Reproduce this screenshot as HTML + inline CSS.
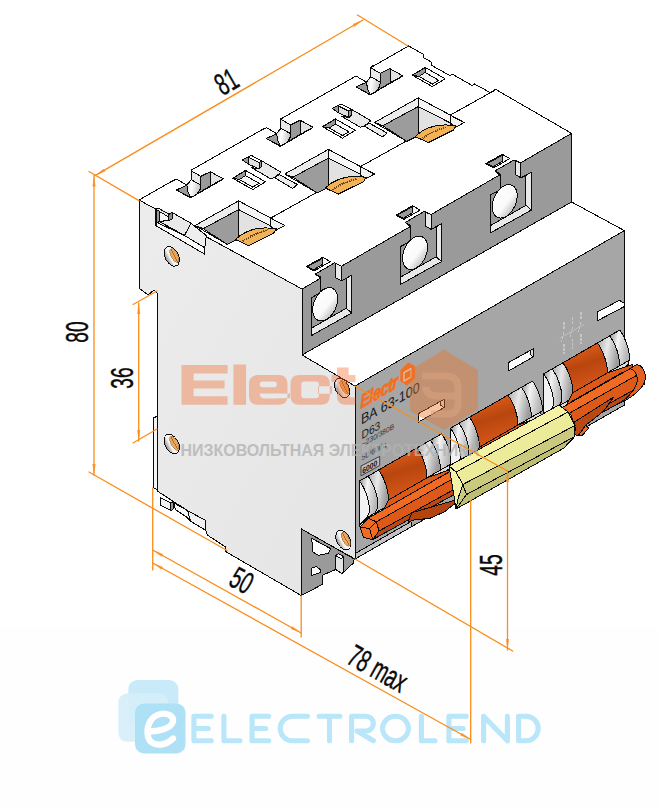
<!DOCTYPE html>
<html><head><meta charset="utf-8"><title>BA 63-100</title>
<style>
html,body{margin:0;padding:0;background:#fff;}
body{width:660px;height:809px;overflow:hidden;font-family:"Liberation Sans",sans-serif;}
svg{display:block;}
text{font-family:"Liberation Sans",sans-serif;}
</style></head><body>
<svg width="660" height="809" viewBox="0 0 660 809">
<defs>
<linearGradient id="gside" x1="0" y1="0" x2="1" y2="1">
<stop offset="0" stop-color="#ececec"/><stop offset="1" stop-color="#e5e5e5"/>
</linearGradient>
<linearGradient id="gor" x1="0" y1="0" x2="0.5" y2="1">
<stop offset="0" stop-color="#f26a22"/><stop offset="1" stop-color="#c94e14"/>
</linearGradient>
<linearGradient id="gcyl" x1="0" y1="0" x2="1" y2="0.3">
<stop offset="0" stop-color="#8a8a8a"/><stop offset="0.45" stop-color="#f4f4f4"/><stop offset="1" stop-color="#b5b5b5"/>
</linearGradient>
<linearGradient id="gcyl2" x1="0" y1="0" x2="1" y2="0.3">
<stop offset="0" stop-color="#a8a8a8"/><stop offset="0.5" stop-color="#e8e8e8"/><stop offset="1" stop-color="#9c9c9c"/>
</linearGradient>
<linearGradient id="gbody" x1="0.3" y1="0" x2="0.6" y2="1">
<stop offset="0" stop-color="#e8601c"/><stop offset="0.45" stop-color="#b8460f"/><stop offset="1" stop-color="#dd5a1a"/>
</linearGradient>
<linearGradient id="gtab" x1="0" y1="0" x2="1" y2="0.2">
<stop offset="0" stop-color="#d0d0d0"/><stop offset="0.4" stop-color="#ffffff"/><stop offset="1" stop-color="#c4c4c4"/>
</linearGradient>
<linearGradient id="gscrew" x1="0" y1="0" x2="1" y2="0">
<stop offset="0" stop-color="#8c8c8c"/><stop offset="0.35" stop-color="#f2f2f2"/><stop offset="1" stop-color="#ffffff"/>
</linearGradient>
<linearGradient id="ghole" x1="0" y1="0" x2="1" y2="0.4">
<stop offset="0" stop-color="#ffffff"/><stop offset="0.7" stop-color="#fafafa"/><stop offset="1" stop-color="#cfcfcf"/>
</linearGradient>
</defs>
<rect width="660" height="809" fill="#ffffff"/>
<g shape-rendering="crispEdges">
<rect x="0" y="627" width="660" height="182" fill="#fefefe"/>
<polygon points="139.0,200.0 408.6,45.9 423.5,54.4 423.5,57.6 431.0,61.8 431.0,65.0 450.0,75.6 452.0,74.0 472.3,85.6 474.4,84.0 490.3,92.6 495.6,89.4 571.6,133.4 302.0,289.0" fill="#ffffff" stroke="#0a0a0a" stroke-width="1" stroke-linejoin="round" />
<polygon points="139.0,200.0 302.0,289.0 302.0,355.0 355.0,386.0 355.0,559.0 301.2,529.0 301.2,595.5 225.5,551.5 225.5,547.0 207.3,535.0 205.7,530.0 190.6,521.0 187.6,510.6 171.0,500.0 157.3,491.0 157.3,417.0 157.3,293.0 154.0,290.0 148.0,295.0 139.0,288.0" fill="url(#gside)" stroke="#0a0a0a" stroke-width="1" stroke-linejoin="round" />
<polygon points="153.6,418.0 157.3,416.0 157.3,489.5 153.6,488.0" fill="#f4f4f4" stroke="#0a0a0a" stroke-width="1" stroke-linejoin="round" />
<polygon points="302.0,289.0 571.6,133.4 571.6,202.0 302.0,355.0" fill="#9a9a9a" stroke="#0a0a0a" stroke-width="1" stroke-linejoin="round" />
<polygon points="302.0,355.0 571.6,202.0 624.4,230.6 355.0,386.0" fill="#ffffff" stroke="#0a0a0a" stroke-width="1" stroke-linejoin="round" />
<polygon points="355.0,386.0 624.4,230.6 624.4,405.0 355.0,559.0" fill="#a6a6a6" stroke="#0a0a0a" stroke-width="1" stroke-linejoin="round" />
<polygon points="195.0,225.5 238.6,200.9 238.6,209.6 203.2,228.7" fill="#ececec" stroke="#0a0a0a" stroke-width="1" stroke-linejoin="round" />
<polygon points="238.6,200.9 284.6,225.5 275.9,230.4 270.5,225.8 238.6,209.6" fill="#f6f6f6" stroke="#0a0a0a" stroke-width="1" stroke-linejoin="round" />
<polygon points="203.2,228.7 238.6,209.6 238.6,238.7 227.2,244.4" fill="#9c9c9c" stroke="#0a0a0a" stroke-width="1" stroke-linejoin="round" />
<polygon points="238.6,209.6 270.5,225.8 272.3,230.4 238.6,240.0" fill="#e2e2e2" stroke="#0a0a0a" stroke-width="1" stroke-linejoin="round" />
<polyline points="238.6,200.9 238.6,238.7" fill="none" stroke="#0a0a0a" stroke-width="1" stroke-linejoin="round" stroke-linecap="round" />
<polyline points="195.0,225.5 227.2,244.4" fill="none" stroke="#0a0a0a" stroke-width="1" stroke-linejoin="round" stroke-linecap="round" />
<polygon points="270.5,218.2 284.6,225.5 275.9,230.4 270.5,225.8" fill="#f0f0f0" stroke="#0a0a0a" stroke-width="1" stroke-linejoin="round" />
<path d="M235.5,239.5 C245.0,230.4 259.5,226.0 276.3,228.9 L273.7,233.1 L248.6,245.6 Z" fill="#f2b258" stroke="#0a0a0a" stroke-width="1" stroke-linejoin="round"/>
<path d="M242.8,241.3 Q252.3,234.2 267.7,230.0" fill="none" stroke="#6e4418" stroke-width="1.8" stroke-dasharray="1.3,0.8"/>
<polyline points="270.5,218.2 316.3,192.7" fill="none" stroke="#0a0a0a" stroke-width="1" stroke-linejoin="round" stroke-linecap="round" />
<polygon points="284.8,174.0 328.4,149.4 328.4,158.1 293.0,177.2" fill="#ececec" stroke="#0a0a0a" stroke-width="1" stroke-linejoin="round" />
<polygon points="328.4,149.4 374.4,174.0 365.7,178.9 360.3,174.3 328.4,158.1" fill="#f6f6f6" stroke="#0a0a0a" stroke-width="1" stroke-linejoin="round" />
<polygon points="293.0,177.2 328.4,158.1 328.4,187.2 317.0,192.9" fill="#9c9c9c" stroke="#0a0a0a" stroke-width="1" stroke-linejoin="round" />
<polygon points="328.4,158.1 360.3,174.3 362.1,178.9 328.4,188.5" fill="#e2e2e2" stroke="#0a0a0a" stroke-width="1" stroke-linejoin="round" />
<polyline points="328.4,149.4 328.4,187.2" fill="none" stroke="#0a0a0a" stroke-width="1" stroke-linejoin="round" stroke-linecap="round" />
<polyline points="284.8,174.0 317.0,192.9" fill="none" stroke="#0a0a0a" stroke-width="1" stroke-linejoin="round" stroke-linecap="round" />
<polygon points="360.3,166.7 374.4,174.0 365.7,178.9 360.3,174.3" fill="#f0f0f0" stroke="#0a0a0a" stroke-width="1" stroke-linejoin="round" />
<path d="M325.3,188.0 C334.8,178.9 349.3,174.5 366.1,177.4 L363.5,181.6 L338.4,194.1 Z" fill="#f2b258" stroke="#0a0a0a" stroke-width="1" stroke-linejoin="round"/>
<path d="M332.6,189.8 Q342.1,182.7 357.5,178.5" fill="none" stroke="#6e4418" stroke-width="1.8" stroke-dasharray="1.3,0.8"/>
<polyline points="360.3,166.7 406.1,141.2" fill="none" stroke="#0a0a0a" stroke-width="1" stroke-linejoin="round" stroke-linecap="round" />
<polygon points="374.6,122.5 418.2,97.9 418.2,106.6 382.8,125.7" fill="#ececec" stroke="#0a0a0a" stroke-width="1" stroke-linejoin="round" />
<polygon points="418.2,97.9 464.2,122.5 455.5,127.4 450.1,122.8 418.2,106.6" fill="#f6f6f6" stroke="#0a0a0a" stroke-width="1" stroke-linejoin="round" />
<polygon points="382.8,125.7 418.2,106.6 418.2,135.7 406.8,141.4" fill="#9c9c9c" stroke="#0a0a0a" stroke-width="1" stroke-linejoin="round" />
<polygon points="418.2,106.6 450.1,122.8 451.9,127.4 418.2,137.0" fill="#e2e2e2" stroke="#0a0a0a" stroke-width="1" stroke-linejoin="round" />
<polyline points="418.2,97.9 418.2,135.7" fill="none" stroke="#0a0a0a" stroke-width="1" stroke-linejoin="round" stroke-linecap="round" />
<polyline points="374.6,122.5 406.8,141.4" fill="none" stroke="#0a0a0a" stroke-width="1" stroke-linejoin="round" stroke-linecap="round" />
<polygon points="450.1,115.2 464.2,122.5 455.5,127.4 450.1,122.8" fill="#f0f0f0" stroke="#0a0a0a" stroke-width="1" stroke-linejoin="round" />
<path d="M415.1,136.5 C424.6,127.4 439.1,123.0 455.9,125.9 L453.3,130.1 L428.2,142.6 Z" fill="#f2b258" stroke="#0a0a0a" stroke-width="1" stroke-linejoin="round"/>
<path d="M422.4,138.3 Q431.9,131.2 447.3,127.0" fill="none" stroke="#6e4418" stroke-width="1.8" stroke-dasharray="1.3,0.8"/>
<polyline points="450.1,115.2 495.9,89.7" fill="none" stroke="#0a0a0a" stroke-width="1" stroke-linejoin="round" stroke-linecap="round" />
<polygon points="175.2,177.4 190.8,168.4 192.2,171.3 185.6,186.4 176.2,181.3" fill="#ffffff" stroke="none" stroke-width="0" stroke-linejoin="round" />
<polygon points="176.5,190.0 186.8,185.2 191.1,179.7 200.8,176.4 210.5,171.6 223.2,178.8 190.5,197.9" fill="#ffffff" stroke="none" stroke-width="0" stroke-linejoin="round" />
<polygon points="176.5,190.0 186.8,185.2 190.5,197.5" fill="#9a9a9a" stroke="#0a0a0a" stroke-width="1" stroke-linejoin="round" />
<polygon points="200.8,176.4 210.5,171.6 210.5,185.8 195.9,194.6 200.2,190.0" fill="#9a9a9a" stroke="#0a0a0a" stroke-width="1" stroke-linejoin="round" />
<polygon points="210.5,171.8 223.2,178.8 210.5,185.8" fill="#e2e2e2" stroke="#0a0a0a" stroke-width="1" stroke-linejoin="round" />
<polygon points="191.1,170.8 200.8,176.4 200.8,185.2 191.1,179.7" fill="#e9e9e9" stroke="#0a0a0a" stroke-width="1" stroke-linejoin="round" />
<path d="M186.8,185.2 L191.1,179.7 L200.8,185.2 Q200.4,190.6 195.9,195.1 L190.5,197.5 Q187.4,192.4 186.8,185.2 Z" fill="url(#gtab)" stroke="#0a0a0a" stroke-width="1" stroke-linejoin="round"/>
<polyline points="176.5,190.0 190.5,197.9 223.2,179.1" fill="none" stroke="#0a0a0a" stroke-width="1" stroke-linejoin="round" stroke-linecap="round" />
<path d="M172.3,181.3 L175.3,179.7 Q177.1,178.8 178.9,180.5 L186.8,185.2" fill="none" stroke="#0a0a0a" stroke-width="1"/>
<polyline points="191.1,179.7 191.1,170.1 194.1,168.4" fill="none" stroke="#0a0a0a" stroke-width="1" stroke-linejoin="round" stroke-linecap="round" />
<polygon points="265.0,125.9 280.6,116.9 282.0,119.8 275.4,134.9 266.0,129.8" fill="#ffffff" stroke="none" stroke-width="0" stroke-linejoin="round" />
<polygon points="266.3,138.5 276.6,133.7 280.9,128.2 290.6,124.9 300.3,120.1 313.0,127.3 280.3,146.4" fill="#ffffff" stroke="none" stroke-width="0" stroke-linejoin="round" />
<polygon points="266.3,138.5 276.6,133.7 280.3,146.0" fill="#9a9a9a" stroke="#0a0a0a" stroke-width="1" stroke-linejoin="round" />
<polygon points="290.6,124.9 300.3,120.1 300.3,134.3 285.7,143.1 290.0,138.5" fill="#9a9a9a" stroke="#0a0a0a" stroke-width="1" stroke-linejoin="round" />
<polygon points="300.3,120.3 313.0,127.3 300.3,134.3" fill="#e2e2e2" stroke="#0a0a0a" stroke-width="1" stroke-linejoin="round" />
<polygon points="280.9,119.3 290.6,124.9 290.6,133.7 280.9,128.2" fill="#e9e9e9" stroke="#0a0a0a" stroke-width="1" stroke-linejoin="round" />
<path d="M276.6,133.7 L280.9,128.2 L290.6,133.7 Q290.2,139.1 285.7,143.6 L280.3,146.0 Q277.2,140.9 276.6,133.7 Z" fill="url(#gtab)" stroke="#0a0a0a" stroke-width="1" stroke-linejoin="round"/>
<polyline points="266.3,138.5 280.3,146.4 313.0,127.6" fill="none" stroke="#0a0a0a" stroke-width="1" stroke-linejoin="round" stroke-linecap="round" />
<path d="M262.1,129.8 L265.1,128.2 Q266.9,127.3 268.7,129.0 L276.6,133.7" fill="none" stroke="#0a0a0a" stroke-width="1"/>
<polyline points="280.9,128.2 280.9,118.6 283.9,116.9" fill="none" stroke="#0a0a0a" stroke-width="1" stroke-linejoin="round" stroke-linecap="round" />
<polygon points="354.8,74.4 370.4,65.4 371.8,68.3 365.2,83.4 355.8,78.3" fill="#ffffff" stroke="none" stroke-width="0" stroke-linejoin="round" />
<polygon points="356.1,87.0 366.4,82.2 370.7,76.7 380.4,73.4 390.1,68.6 402.8,75.8 370.1,94.9" fill="#ffffff" stroke="none" stroke-width="0" stroke-linejoin="round" />
<polygon points="356.1,87.0 366.4,82.2 370.1,94.5" fill="#9a9a9a" stroke="#0a0a0a" stroke-width="1" stroke-linejoin="round" />
<polygon points="380.4,73.4 390.1,68.6 390.1,82.8 375.5,91.6 379.8,87.0" fill="#9a9a9a" stroke="#0a0a0a" stroke-width="1" stroke-linejoin="round" />
<polygon points="390.1,68.8 402.8,75.8 390.1,82.8" fill="#e2e2e2" stroke="#0a0a0a" stroke-width="1" stroke-linejoin="round" />
<polygon points="370.7,67.8 380.4,73.4 380.4,82.2 370.7,76.7" fill="#e9e9e9" stroke="#0a0a0a" stroke-width="1" stroke-linejoin="round" />
<path d="M366.4,82.2 L370.7,76.7 L380.4,82.2 Q380.0,87.6 375.5,92.1 L370.1,94.5 Q367.0,89.4 366.4,82.2 Z" fill="url(#gtab)" stroke="#0a0a0a" stroke-width="1" stroke-linejoin="round"/>
<polyline points="356.1,87.0 370.1,94.9 402.8,76.1" fill="none" stroke="#0a0a0a" stroke-width="1" stroke-linejoin="round" stroke-linecap="round" />
<path d="M351.9,78.3 L354.9,76.7 Q356.7,75.8 358.5,77.5 L366.4,82.2" fill="none" stroke="#0a0a0a" stroke-width="1"/>
<polyline points="370.7,76.7 370.7,67.1 373.7,65.4" fill="none" stroke="#0a0a0a" stroke-width="1" stroke-linejoin="round" stroke-linecap="round" />
<polygon points="232.7,178.2 245.5,170.4 265.5,181.8 252.7,189.6" fill="#fcfcfc" stroke="#0a0a0a" stroke-width="1" stroke-linejoin="round" />
<polygon points="232.7,178.2 245.5,170.7 245.5,175.5 239.5,179.5" fill="#9a9a9a" stroke="#0a0a0a" stroke-width="1" stroke-linejoin="round" />
<polygon points="245.5,175.5 259.1,183.3 252.7,187.1 239.5,179.5" fill="#f4f4f4" stroke="#0a0a0a" stroke-width="1" stroke-linejoin="round" />
<polygon points="242.4,160.0 248.2,156.9 248.2,164.0" fill="#9a9a9a" stroke="#0a0a0a" stroke-width="1" stroke-linejoin="round" />
<polygon points="248.2,157.3 259.1,162.7 259.1,169.1 248.2,164.0" fill="#dedede" stroke="#0a0a0a" stroke-width="1" stroke-linejoin="round" />
<polygon points="251.5,167.6 259.1,169.1 261.8,166.4 261.8,160.9 280.9,172.2 274.5,177.6 270.4,178.7" fill="#e8e8e8" stroke="#0a0a0a" stroke-width="1" stroke-linejoin="round" />
<polygon points="259.1,162.4 261.8,160.9 261.8,166.4 259.1,169.1" fill="#9a9a9a" stroke="#0a0a0a" stroke-width="1" stroke-linejoin="round" />
<polygon points="274.5,177.6 279.5,174.7 297.3,184.5 292.7,188.5" fill="#ececec" stroke="#0a0a0a" stroke-width="1" stroke-linejoin="round" />
<polyline points="248.2,156.9 251.5,155.5 261.8,160.9" fill="none" stroke="#0a0a0a" stroke-width="1" stroke-linejoin="round" stroke-linecap="round" />
<polygon points="322.5,126.7 335.3,118.9 355.3,130.3 342.5,138.1" fill="#fcfcfc" stroke="#0a0a0a" stroke-width="1" stroke-linejoin="round" />
<polygon points="322.5,126.7 335.3,119.2 335.3,124.0 329.3,128.0" fill="#9a9a9a" stroke="#0a0a0a" stroke-width="1" stroke-linejoin="round" />
<polygon points="335.3,124.0 348.9,131.8 342.5,135.6 329.3,128.0" fill="#f4f4f4" stroke="#0a0a0a" stroke-width="1" stroke-linejoin="round" />
<polygon points="332.2,108.5 338.0,105.4 338.0,112.5" fill="#9a9a9a" stroke="#0a0a0a" stroke-width="1" stroke-linejoin="round" />
<polygon points="338.0,105.8 348.9,111.2 348.9,117.6 338.0,112.5" fill="#dedede" stroke="#0a0a0a" stroke-width="1" stroke-linejoin="round" />
<polygon points="341.3,116.1 348.9,117.6 351.6,114.9 351.6,109.4 370.7,120.7 364.3,126.1 360.2,127.2" fill="#e8e8e8" stroke="#0a0a0a" stroke-width="1" stroke-linejoin="round" />
<polygon points="348.9,110.9 351.6,109.4 351.6,114.9 348.9,117.6" fill="#9a9a9a" stroke="#0a0a0a" stroke-width="1" stroke-linejoin="round" />
<polygon points="364.3,126.1 369.3,123.2 387.1,133.0 382.5,137.0" fill="#ececec" stroke="#0a0a0a" stroke-width="1" stroke-linejoin="round" />
<polyline points="338.0,105.4 341.3,104.0 351.6,109.4" fill="none" stroke="#0a0a0a" stroke-width="1" stroke-linejoin="round" stroke-linecap="round" />
<polygon points="412.3,75.2 425.1,67.4 445.1,78.8 432.3,86.6" fill="#fcfcfc" stroke="#0a0a0a" stroke-width="1" stroke-linejoin="round" />
<polygon points="412.3,75.2 425.1,67.7 425.1,72.5 419.1,76.5" fill="#9a9a9a" stroke="#0a0a0a" stroke-width="1" stroke-linejoin="round" />
<polygon points="425.1,72.5 438.7,80.3 432.3,84.1 419.1,76.5" fill="#f4f4f4" stroke="#0a0a0a" stroke-width="1" stroke-linejoin="round" />
<polygon points="155.5,209.1 158.2,208.2 172.2,212.2 190.9,223.3 206.7,235.8 205.5,239.5 204.5,254.0 155.5,225.5" fill="#ebebeb" stroke="none" stroke-width="0" stroke-linejoin="round" />
<polygon points="155.5,225.5 157.3,222.7 184.5,235.5 204.9,247.8 204.5,254.0" fill="#fbfbfb" stroke="#0a0a0a" stroke-width="1" stroke-linejoin="round" />
<polygon points="156.4,209.6 159.5,211.5 159.5,221.3 156.9,223.1" fill="#9a9a9a" stroke="#0a0a0a" stroke-width="1" stroke-linejoin="round" />
<polygon points="159.5,211.5 168.5,216.9 168.5,220.5 159.5,221.3" fill="#f4f4f4" stroke="#0a0a0a" stroke-width="1" stroke-linejoin="round" />
<polygon points="168.5,214.5 172.2,212.5 172.2,219.1 168.5,220.5" fill="#8a8a8a" stroke="#0a0a0a" stroke-width="1" stroke-linejoin="round" />
<polygon points="172.2,212.5 190.9,223.3 184.5,235.5 159.5,221.6 168.5,220.5 172.2,219.1" fill="#e9e9e9" stroke="#0a0a0a" stroke-width="1" stroke-linejoin="round" />
<polygon points="184.5,235.5 190.9,223.3 206.7,235.8 205.5,239.5 204.9,247.8" fill="#eeeeee" stroke="#0a0a0a" stroke-width="1" stroke-linejoin="round" />
<polyline points="155.5,209.1 155.5,225.5 204.5,254.0 205.5,239.1" fill="none" stroke="#0a0a0a" stroke-width="1" stroke-linejoin="round" stroke-linecap="round" />
<polyline points="155.5,209.1 158.2,208.2 169.1,214.2" fill="none" stroke="#0a0a0a" stroke-width="1" stroke-linejoin="round" stroke-linecap="round" />
<g transform="translate(171.8,256.4) rotate(-28)">
<ellipse cx="0" cy="0" rx="6.6" ry="10.6" fill="url(#gscrew)" stroke="#0a0a0a" stroke-width="1"/>
<ellipse cx="2.6" cy="0.5" rx="3.2" ry="7.8" fill="#e9a85c" stroke="#8a5a2a" stroke-width="0.5"/>
<line x1="2.6" y1="-6.5" x2="2.6" y2="7.5" stroke="#b06a2a" stroke-width="1"/>
</g>
<g transform="translate(171.8,444.0) rotate(-28)">
<ellipse cx="0" cy="0" rx="6.6" ry="10.6" fill="url(#gscrew)" stroke="#0a0a0a" stroke-width="1"/>
<ellipse cx="2.6" cy="0.5" rx="3.2" ry="7.8" fill="#e9a85c" stroke="#8a5a2a" stroke-width="0.5"/>
<line x1="2.6" y1="-6.5" x2="2.6" y2="7.5" stroke="#b06a2a" stroke-width="1"/>
</g>
<g transform="translate(342.0,388.0) rotate(-28)">
<ellipse cx="0" cy="0" rx="6.6" ry="10.6" fill="url(#gscrew)" stroke="#0a0a0a" stroke-width="1"/>
<ellipse cx="2.6" cy="0.5" rx="3.2" ry="7.8" fill="#e9a85c" stroke="#8a5a2a" stroke-width="0.5"/>
<line x1="2.6" y1="-6.5" x2="2.6" y2="7.5" stroke="#b06a2a" stroke-width="1"/>
</g>
<g transform="translate(343.3,540.0) rotate(-28)">
<ellipse cx="0" cy="0" rx="6.6" ry="10.6" fill="url(#gscrew)" stroke="#0a0a0a" stroke-width="1"/>
<ellipse cx="2.6" cy="0.5" rx="3.2" ry="7.8" fill="#e9a85c" stroke="#8a5a2a" stroke-width="0.5"/>
<line x1="2.6" y1="-6.5" x2="2.6" y2="7.5" stroke="#b06a2a" stroke-width="1"/>
</g>
<polygon points="320.9,278.6 315.3,274.0 334.5,262.9 341.3,266.2 341.3,269.7 320.9,280.8" fill="#9a9a9a" stroke="none" stroke-width="0" stroke-linejoin="round" />
<polygon points="335.4,263.2 341.3,266.2 341.3,280.8 335.4,277.5" fill="#e9e9e9" stroke="#0a0a0a" stroke-width="1" stroke-linejoin="round" />
<polygon points="346.3,278.3 351.8,275.2 351.8,313.0 346.3,308.3" fill="#e9e9e9" stroke="#0a0a0a" stroke-width="1" stroke-linejoin="round" />
<polygon points="311.0,335.8 351.8,313.0 346.3,308.3 311.0,328.5" fill="#e9e9e9" stroke="#0a0a0a" stroke-width="1" stroke-linejoin="round" />
<polyline points="320.9,292.6 311.0,297.9 311.0,335.8 351.8,313.0 351.8,275.2 344.4,279.3 341.3,280.8" fill="none" stroke="#0a0a0a" stroke-width="1" stroke-linejoin="round" stroke-linecap="round" />
<polyline points="320.9,292.6 320.9,277.1" fill="none" stroke="#0a0a0a" stroke-width="1" stroke-linejoin="round" stroke-linecap="round" />
<polyline points="320.9,278.6 315.3,274.0 334.5,262.9 341.3,266.2" fill="none" stroke="#0a0a0a" stroke-width="1" stroke-linejoin="round" stroke-linecap="round" />
<polyline points="315.3,274.0 320.9,277.1" fill="none" stroke="#0a0a0a" stroke-width="1" stroke-linejoin="round" stroke-linecap="round" />
<ellipse cx="0" cy="0" rx="11.2" ry="17.6" transform="translate(325.2,304.3) rotate(24)" fill="url(#ghole)" stroke="#0a0a0a" stroke-width="1"/>
<polygon points="306.1,266.6 322.8,257.3 330.2,261.6 314.1,270.9" fill="#f4f4f4" stroke="#0a0a0a" stroke-width="1" stroke-linejoin="round" />
<polygon points="307.3,266.7 322.8,258.2 322.8,264.2 313.9,269.7" fill="#9a9a9a" stroke="#0a0a0a" stroke-width="1" stroke-linejoin="round" />
<polygon points="410.7,227.1 405.1,222.5 424.3,211.4 431.1,214.7 431.1,218.2 410.7,229.3" fill="#9a9a9a" stroke="none" stroke-width="0" stroke-linejoin="round" />
<polygon points="425.2,211.7 431.1,214.7 431.1,229.3 425.2,226.0" fill="#e9e9e9" stroke="#0a0a0a" stroke-width="1" stroke-linejoin="round" />
<polygon points="436.1,226.8 441.6,223.7 441.6,261.5 436.1,256.8" fill="#e9e9e9" stroke="#0a0a0a" stroke-width="1" stroke-linejoin="round" />
<polygon points="400.8,284.3 441.6,261.5 436.1,256.8 400.8,277.0" fill="#e9e9e9" stroke="#0a0a0a" stroke-width="1" stroke-linejoin="round" />
<polyline points="410.7,241.1 400.8,246.4 400.8,284.3 441.6,261.5 441.6,223.7 434.2,227.8 431.1,229.3" fill="none" stroke="#0a0a0a" stroke-width="1" stroke-linejoin="round" stroke-linecap="round" />
<polyline points="410.7,241.1 410.7,225.6" fill="none" stroke="#0a0a0a" stroke-width="1" stroke-linejoin="round" stroke-linecap="round" />
<polyline points="410.7,227.1 405.1,222.5 424.3,211.4 431.1,214.7" fill="none" stroke="#0a0a0a" stroke-width="1" stroke-linejoin="round" stroke-linecap="round" />
<polyline points="405.1,222.5 410.7,225.6" fill="none" stroke="#0a0a0a" stroke-width="1" stroke-linejoin="round" stroke-linecap="round" />
<ellipse cx="0" cy="0" rx="11.2" ry="17.6" transform="translate(415.0,252.8) rotate(24)" fill="url(#ghole)" stroke="#0a0a0a" stroke-width="1"/>
<polygon points="395.9,215.1 412.6,205.8 420.0,210.1 403.9,219.4" fill="#f4f4f4" stroke="#0a0a0a" stroke-width="1" stroke-linejoin="round" />
<polygon points="397.1,215.2 412.6,206.7 412.6,212.7 403.7,218.2" fill="#9a9a9a" stroke="#0a0a0a" stroke-width="1" stroke-linejoin="round" />
<polygon points="500.5,175.6 494.9,171.0 514.1,159.9 520.9,163.2 520.9,166.7 500.5,177.8" fill="#9a9a9a" stroke="none" stroke-width="0" stroke-linejoin="round" />
<polygon points="515.0,160.2 520.9,163.2 520.9,177.8 515.0,174.5" fill="#e9e9e9" stroke="#0a0a0a" stroke-width="1" stroke-linejoin="round" />
<polygon points="525.9,175.3 531.4,172.2 531.4,210.0 525.9,205.3" fill="#e9e9e9" stroke="#0a0a0a" stroke-width="1" stroke-linejoin="round" />
<polygon points="490.6,232.8 531.4,210.0 525.9,205.3 490.6,225.5" fill="#e9e9e9" stroke="#0a0a0a" stroke-width="1" stroke-linejoin="round" />
<polyline points="500.5,189.6 490.6,194.9 490.6,232.8 531.4,210.0 531.4,172.2 524.0,176.3 520.9,177.8" fill="none" stroke="#0a0a0a" stroke-width="1" stroke-linejoin="round" stroke-linecap="round" />
<polyline points="500.5,189.6 500.5,174.1" fill="none" stroke="#0a0a0a" stroke-width="1" stroke-linejoin="round" stroke-linecap="round" />
<polyline points="500.5,175.6 494.9,171.0 514.1,159.9 520.9,163.2" fill="none" stroke="#0a0a0a" stroke-width="1" stroke-linejoin="round" stroke-linecap="round" />
<polyline points="494.9,171.0 500.5,174.1" fill="none" stroke="#0a0a0a" stroke-width="1" stroke-linejoin="round" stroke-linecap="round" />
<ellipse cx="0" cy="0" rx="11.2" ry="17.6" transform="translate(504.8,201.3) rotate(24)" fill="url(#ghole)" stroke="#0a0a0a" stroke-width="1"/>
<polygon points="485.7,163.6 502.4,154.3 509.8,158.6 493.7,167.9" fill="#f4f4f4" stroke="#0a0a0a" stroke-width="1" stroke-linejoin="round" />
<polygon points="486.9,163.7 502.4,155.2 502.4,161.2 493.5,166.7" fill="#9a9a9a" stroke="#0a0a0a" stroke-width="1" stroke-linejoin="round" />
<polygon points="418.5,413.6 444.0,399.4 444.0,407.6 418.5,422.0" fill="#fdfdfd" stroke="#0a0a0a" stroke-width="1" stroke-linejoin="round" />
<polygon points="444.0,399.4 444.0,407.6 440.5,405.2 440.5,401.3" fill="#dcdcdc" stroke="#0a0a0a" stroke-width="1" stroke-linejoin="round" />
<polygon points="508.0,362.8 533.5,348.6 533.5,356.8 508.0,371.2" fill="#fdfdfd" stroke="#0a0a0a" stroke-width="1" stroke-linejoin="round" />
<polygon points="533.5,348.6 533.5,356.8 530.0,354.4 530.0,350.5" fill="#dcdcdc" stroke="#0a0a0a" stroke-width="1" stroke-linejoin="round" />
<polygon points="597.3,312.0 619.5,300.3 624.5,303.5 624.5,306.5 597.3,320.8" fill="#fdfdfd" stroke="#0a0a0a" stroke-width="1" stroke-linejoin="round" />
<path d="M564.0,322.0 v7 m0,3 l-2.5,10 m2.5,2 v10" fill="none" stroke="#c6c6c6" stroke-width="1.1" stroke-dasharray="3,1.2"/>
<path d="M572.5,317.0 v7 m0,3 l-2.5,10 m2.5,2 v10" fill="none" stroke="#c6c6c6" stroke-width="1.1" stroke-dasharray="3,1.2"/>
<path d="M581.0,312.0 v7 m0,3 l-2.5,10 m2.5,2 v10" fill="none" stroke="#c6c6c6" stroke-width="1.1" stroke-dasharray="3,1.2"/>
<polyline points="560.0,338.0 584.0,324.5" fill="none" stroke="#c2c2c2" stroke-width="0.9" stroke-linejoin="round" stroke-linecap="round" />
<polygon points="355.0,553.6 411.0,521.6 411.0,527.0 355.0,559.0" fill="#c3c3c3" stroke="#0a0a0a" stroke-width="1" stroke-linejoin="round" />
<polygon points="301.2,528.8 354.2,558.9 353.2,563.2 342.6,573.2 335.6,569.5 322.4,575.3 322.4,584.4 301.2,595.6" fill="#9a9a9a" stroke="#0a0a0a" stroke-width="1" stroke-linejoin="round" />
<polygon points="311.8,538.4 330.9,548.8 328.4,553.2 318.6,555.3 312.7,551.9" fill="#fdfdfd" stroke="#0a0a0a" stroke-width="1" stroke-linejoin="round" />
<polygon points="311.8,568.1 316.5,566.4 320.3,569.8 320.3,572.7 311.8,575.3" fill="#fdfdfd" stroke="#0a0a0a" stroke-width="1" stroke-linejoin="round" />
<polygon points="335.6,555.8 338.5,553.6 343.6,556.6 343.6,571.7 341.5,573.2 335.6,569.5" fill="#e4e4e4" stroke="#0a0a0a" stroke-width="1" stroke-linejoin="round" />
<polygon points="335.6,555.8 338.5,553.6 343.6,556.6 341.1,558.7" fill="#fdfdfd" stroke="#0a0a0a" stroke-width="1" stroke-linejoin="round" />
<polygon points="160.3,497.6 170.9,503.0 170.9,510.6 160.3,505.2" fill="#f2f2f2" stroke="#0a0a0a" stroke-width="1" stroke-linejoin="round" />
<polygon points="170.9,503.0 173.9,501.5 173.9,508.5 170.9,510.6" fill="#9a9a9a" stroke="#0a0a0a" stroke-width="1" stroke-linejoin="round" />
<polygon points="173.9,503.0 187.6,510.6 190.6,521.2 186.1,516.7 175.5,509.7" fill="#f6f6f6" stroke="#0a0a0a" stroke-width="1" stroke-linejoin="round" />
<polygon points="187.6,510.6 205.8,520.6 205.8,530.3 190.6,521.2" fill="#f2f2f2" stroke="#0a0a0a" stroke-width="1" stroke-linejoin="round" />
</g>
<text transform="matrix(0.7465,-0.4274,0,1,360.5,408.8)" font-size="19" fill="#f36f21" font-weight="bold" font-style="italic" letter-spacing="-0.5" stroke="#f36f21" stroke-width="1.0">Electr</text>
<polygon points="408.2,362.9 414.8,366.5 414.4,378.6 407,385.3 400.7,381 400.9,370.2" fill="#f36f21" stroke="#f36f21" stroke-width="0.8" stroke-linejoin="round"/>
<polygon points="403.9,372.6 410.9,368.6 410.9,377 403.9,381" fill="#f36f21" stroke="#d9c3b4" stroke-width="1.3" stroke-linejoin="round"/>
<text transform="matrix(0.8680,-0.4970,0,1,361.0,424.8)" font-size="14.4" fill="#1a1a1a" font-weight="normal" >ВА 63-100</text>
<text transform="matrix(0.8680,-0.4970,0,1,361.5,439.4)" font-size="11.8" fill="#222" font-weight="normal" >D63</text>
<text transform="matrix(0.8680,-0.4970,0,1,362.0,446.9)" font-size="7.6" fill="#333" font-weight="normal" >~230/380В</text>
<text transform="matrix(0.8680,-0.4970,0,1,361.8,460.6)" font-size="7.8" fill="#333" font-weight="normal" >50/60Гц</text>
<polygon points="361.0,466.0 379.7,456.4 379.7,465.5 361.0,475.8" fill="#bdbdbd" stroke="#222" stroke-width="0.8" stroke-linejoin="round" />
<text transform="matrix(0.8246,-0.4721,0,1,362.3,474.0)" font-size="8.2" fill="#111" font-weight="bold" >6000</text>
<g shape-rendering="crispEdges">
<polygon points="359.5,481.0 441.5,433.9 450.5,467.9 368.5,527.0 359.5,527.0" fill="#dcdcdc" stroke="#0a0a0a" stroke-width="1" stroke-linejoin="round" />
<polygon points="359.5,481.0 361.1,483.3 362.7,485.9 364.2,488.9 365.5,492.0 366.7,495.2 367.7,498.6 368.5,501.9 369.1,505.1 369.3,508.2 369.3,511.0 369.0,512.7 368.5,514.2 367.9,515.5 367.1,516.8 366.3,518.0 359.5,525.0" fill="#f2f2f2" stroke="#0a0a0a" stroke-width="1" stroke-linejoin="round" />
<polygon points="359.5,481.0 361.1,483.3 362.7,485.9 364.2,488.9 365.5,492.0 366.7,495.2 367.7,498.6 368.5,501.9 369.1,505.1 369.3,508.2 369.3,511.0 369.0,512.7 368.5,514.2 367.9,515.5 367.1,516.8 366.3,518.0 374.8,513.1 375.6,511.9 376.4,510.6 377.0,509.3 377.5,507.8 377.8,506.1 377.8,503.3 377.6,500.2 377.0,497.0 376.2,493.7 375.2,490.4 374.0,487.1 372.7,484.0 371.2,481.1 369.6,478.4 368.0,476.1" fill="url(#gcyl)" stroke="#0a0a0a" stroke-width="1" stroke-linejoin="round" />
<polygon points="368.0,476.1 369.6,478.4 371.2,481.1 372.7,484.0 374.0,487.1 375.2,490.4 376.2,493.7 377.0,497.0 377.6,500.2 377.8,503.3 377.8,506.1 377.5,507.8 377.0,509.3 376.4,510.6 375.6,511.9 374.8,513.1 385.3,507.1 386.1,505.9 386.9,504.6 387.5,503.3 388.0,501.8 388.3,500.1 388.3,497.2 388.1,494.2 387.5,490.9 386.7,487.6 385.7,484.3 384.5,481.1 383.2,477.9 381.7,475.0 380.1,472.4 378.5,470.1" fill="url(#gcyl2)" stroke="#0a0a0a" stroke-width="1" stroke-linejoin="round" />
<polygon points="388.3,500.1 426.8,477.9 454.3,468.1 454.3,484.1 374.3,526.1 382.3,512.1" fill="#dc591a" stroke="#0a0a0a" stroke-width="1" stroke-linejoin="round" />
<polyline points="386.8,509.1 438.8,479.2" fill="none" stroke="#0a0a0a" stroke-width="1" stroke-linejoin="round" stroke-linecap="round" />
<polygon points="378.5,470.1 380.1,472.4 381.7,475.0 383.2,477.9 384.5,481.1 385.7,484.3 386.7,487.6 387.5,490.9 388.1,494.2 388.3,497.2 388.3,500.1 426.8,477.9 426.8,475.1 426.6,472.0 426.0,468.8 425.2,465.5 424.2,462.2 423.0,458.9 421.7,455.8 420.2,452.9 418.6,450.2 417.0,447.9" fill="url(#gbody)" stroke="#0a0a0a" stroke-width="1" stroke-linejoin="round" />
<polygon points="417.0,447.9 418.6,450.2 420.2,452.9 421.7,455.8 423.0,458.9 424.2,462.2 425.2,465.5 426.0,468.8 426.6,472.0 426.8,475.1 426.8,477.9 440.3,470.2 440.3,467.4 440.1,464.3 439.5,461.1 438.7,457.8 437.7,454.4 436.5,451.2 435.1,448.1 433.7,445.1 432.1,442.5 430.5,440.2" fill="url(#gcyl2)" stroke="#0a0a0a" stroke-width="1" stroke-linejoin="round" />
<polygon points="430.5,440.2 432.1,442.5 433.7,445.1 435.1,448.1 436.5,451.2 437.7,454.4 438.7,457.8 439.5,461.1 440.1,464.3 440.3,467.4 440.3,470.2 451.3,463.9 451.3,461.0 451.1,457.9 450.5,454.7 449.7,451.4 448.7,448.1 447.5,444.8 446.2,441.7 444.7,438.8 443.1,436.1 441.5,433.9" fill="url(#gcyl)" stroke="#0a0a0a" stroke-width="1" stroke-linejoin="round" />
<polygon points="450.4,428.2 532.4,381.1 541.4,415.1 459.4,474.2 450.4,474.2" fill="#dcdcdc" stroke="#0a0a0a" stroke-width="1" stroke-linejoin="round" />
<polygon points="450.4,428.2 452.0,430.5 453.6,433.1 455.1,436.1 456.4,439.2 457.6,442.4 458.6,445.8 459.4,449.1 460.0,452.3 460.2,455.4 460.2,458.2 459.9,459.9 459.4,461.4 458.8,462.7 458.0,464.0 457.2,465.2 450.4,472.2" fill="#f2f2f2" stroke="#0a0a0a" stroke-width="1" stroke-linejoin="round" />
<polygon points="450.4,428.2 452.0,430.5 453.6,433.1 455.1,436.1 456.4,439.2 457.6,442.4 458.6,445.8 459.4,449.1 460.0,452.3 460.2,455.4 460.2,458.2 459.9,459.9 459.4,461.4 458.8,462.7 458.0,464.0 457.2,465.2 465.7,460.3 466.5,459.1 467.3,457.8 467.9,456.5 468.4,455.0 468.7,453.3 468.7,450.5 468.5,447.4 467.9,444.2 467.1,440.9 466.1,437.6 464.9,434.3 463.6,431.2 462.1,428.3 460.5,425.6 458.9,423.3" fill="url(#gcyl)" stroke="#0a0a0a" stroke-width="1" stroke-linejoin="round" />
<polygon points="458.9,423.3 460.5,425.6 462.1,428.3 463.6,431.2 464.9,434.3 466.1,437.6 467.1,440.9 467.9,444.2 468.5,447.4 468.7,450.5 468.7,453.3 468.4,455.0 467.9,456.5 467.3,457.8 466.5,459.1 465.7,460.3 476.2,454.3 477.0,453.1 477.8,451.8 478.4,450.5 478.9,449.0 479.2,447.3 479.2,444.4 479.0,441.4 478.4,438.1 477.6,434.8 476.6,431.5 475.4,428.3 474.1,425.1 472.6,422.2 471.0,419.6 469.4,417.3" fill="url(#gcyl2)" stroke="#0a0a0a" stroke-width="1" stroke-linejoin="round" />
<polygon points="479.2,447.3 517.7,425.1 545.2,415.3 545.2,431.3 465.2,473.3 473.2,459.3" fill="#dc591a" stroke="#0a0a0a" stroke-width="1" stroke-linejoin="round" />
<polyline points="477.7,456.3 529.7,426.4" fill="none" stroke="#0a0a0a" stroke-width="1" stroke-linejoin="round" stroke-linecap="round" />
<polygon points="469.4,417.3 471.0,419.6 472.6,422.2 474.1,425.1 475.4,428.3 476.6,431.5 477.6,434.8 478.4,438.1 479.0,441.4 479.2,444.4 479.2,447.3 517.7,425.1 517.7,422.3 517.5,419.2 516.9,416.0 516.1,412.7 515.1,409.4 513.9,406.1 512.6,403.0 511.1,400.1 509.5,397.4 507.9,395.1" fill="url(#gbody)" stroke="#0a0a0a" stroke-width="1" stroke-linejoin="round" />
<polygon points="507.9,395.1 509.5,397.4 511.1,400.1 512.6,403.0 513.9,406.1 515.1,409.4 516.1,412.7 516.9,416.0 517.5,419.2 517.7,422.3 517.7,425.1 531.2,417.4 531.2,414.6 531.0,411.5 530.4,408.3 529.6,405.0 528.6,401.6 527.4,398.4 526.0,395.3 524.6,392.3 523.0,389.7 521.4,387.4" fill="url(#gcyl2)" stroke="#0a0a0a" stroke-width="1" stroke-linejoin="round" />
<polygon points="521.4,387.4 523.0,389.7 524.6,392.3 526.0,395.3 527.4,398.4 528.6,401.6 529.6,405.0 530.4,408.3 531.0,411.5 531.2,414.6 531.2,417.4 542.2,411.1 542.2,408.2 542.0,405.1 541.4,401.9 540.6,398.6 539.6,395.3 538.4,392.0 537.1,388.9 535.6,386.0 534.0,383.3 532.4,381.1" fill="url(#gcyl)" stroke="#0a0a0a" stroke-width="1" stroke-linejoin="round" />
<polygon points="543.6,373.9 619.7,330.1 628.7,364.1 552.6,419.9 543.6,419.9" fill="#dcdcdc" stroke="#0a0a0a" stroke-width="1" stroke-linejoin="round" />
<polygon points="543.6,373.9 545.2,376.2 546.8,378.8 548.3,381.8 549.6,384.9 550.8,388.1 551.8,391.5 552.6,394.8 553.2,398.0 553.4,401.1 553.4,403.9 553.1,405.6 552.6,407.1 552.0,408.4 551.2,409.7 550.4,410.9 543.6,417.9" fill="#f2f2f2" stroke="#0a0a0a" stroke-width="1" stroke-linejoin="round" />
<polygon points="543.6,373.9 545.2,376.2 546.8,378.8 548.3,381.8 549.6,384.9 550.8,388.1 551.8,391.5 552.6,394.8 553.2,398.0 553.4,401.1 553.4,403.9 553.1,405.6 552.6,407.1 552.0,408.4 551.2,409.7 550.4,410.9 558.9,406.0 559.7,404.8 560.5,403.5 561.1,402.2 561.6,400.7 561.9,399.0 561.9,396.2 561.7,393.1 561.1,389.9 560.3,386.6 559.3,383.3 558.1,380.0 556.8,376.9 555.3,374.0 553.7,371.3 552.1,369.0" fill="url(#gcyl)" stroke="#0a0a0a" stroke-width="1" stroke-linejoin="round" />
<polygon points="552.1,369.0 553.7,371.3 555.3,374.0 556.8,376.9 558.1,380.0 559.3,383.3 560.3,386.6 561.1,389.9 561.7,393.1 561.9,396.2 561.9,399.0 561.6,400.7 561.1,402.2 560.5,403.5 559.7,404.8 558.9,406.0 569.7,399.8 570.5,398.6 571.3,397.3 571.9,396.0 572.4,394.5 572.7,392.8 572.7,390.0 572.5,386.9 571.9,383.7 571.1,380.4 570.1,377.1 568.9,373.8 567.6,370.7 566.1,367.7 564.5,365.1 562.9,362.8" fill="url(#gcyl2)" stroke="#0a0a0a" stroke-width="1" stroke-linejoin="round" />
<polygon points="572.7,392.8 607.2,373.0 632.5,364.4 632.5,380.4 558.7,418.8 566.7,404.8" fill="#dc591a" stroke="#0a0a0a" stroke-width="1" stroke-linejoin="round" />
<polyline points="571.2,401.8 623.2,371.9" fill="none" stroke="#0a0a0a" stroke-width="1" stroke-linejoin="round" stroke-linecap="round" />
<polygon points="562.9,362.8 564.5,365.1 566.1,367.7 567.6,370.7 568.9,373.8 570.1,377.1 571.1,380.4 571.9,383.7 572.5,386.9 572.7,390.0 572.7,392.8 607.2,373.0 607.2,370.1 607.0,367.1 606.4,363.8 605.6,360.5 604.6,357.2 603.4,354.0 602.1,350.8 600.6,347.9 599.0,345.3 597.4,343.0" fill="url(#gbody)" stroke="#0a0a0a" stroke-width="1" stroke-linejoin="round" />
<polygon points="597.4,343.0 599.0,345.3 600.6,347.9 602.1,350.8 603.4,354.0 604.6,357.2 605.6,360.5 606.4,363.8 607.0,367.1 607.2,370.1 607.2,373.0 619.5,365.9 619.5,363.1 619.2,360.0 618.7,356.8 617.9,353.5 616.9,350.2 615.7,346.9 614.3,343.8 612.9,340.9 611.3,338.2 609.7,335.9" fill="url(#gcyl2)" stroke="#0a0a0a" stroke-width="1" stroke-linejoin="round" />
<polygon points="609.7,335.9 611.3,338.2 612.9,340.9 614.3,343.8 615.7,346.9 616.9,350.2 617.9,353.5 618.7,356.8 619.2,360.0 619.5,363.1 619.5,365.9 629.5,360.1 629.5,357.3 629.3,354.2 628.7,351.0 627.9,347.7 626.9,344.4 625.7,341.1 624.4,338.0 622.9,335.1 621.3,332.4 619.7,330.1" fill="url(#gcyl)" stroke="#0a0a0a" stroke-width="1" stroke-linejoin="round" />
<polygon points="368.2,518.2 637.0,364.8 643.5,371.5 376.4,521.8" fill="#ef6a22" stroke="#0a0a0a" stroke-width="1" stroke-linejoin="round" />
<polygon points="376.4,521.8 643.5,371.5 644.5,384.0 379.0,531.0" fill="#dc591a" stroke="#0a0a0a" stroke-width="1" stroke-linejoin="round" />
<polygon points="379.0,531.0 644.5,384.0 627.0,398.8 372.7,539.6" fill="#b94812" stroke="#0a0a0a" stroke-width="1" stroke-linejoin="round" />
<path d="M630,368.5 L637,364.5 Q644,366 645.6,376 Q645,389 627,399.5 L620,403 Q636,392 637.5,380 Q637,371 630,368.5 Z" fill="#e26020" stroke="#0a0a0a" stroke-width="1" stroke-linejoin="round"/>
<polygon points="360.0,527.0 368.2,518.2 376.4,521.8 379.0,531.0 372.7,539.6 363.6,537.3" fill="#ef6a22" stroke="#0a0a0a" stroke-width="1" stroke-linejoin="round" />
<polyline points="360.0,527.0 369.5,528.5 376.4,521.8" fill="none" stroke="#0a0a0a" stroke-width="1" stroke-linejoin="round" stroke-linecap="round" />
<polyline points="369.5,528.5 372.7,539.6" fill="none" stroke="#0a0a0a" stroke-width="1" stroke-linejoin="round" stroke-linecap="round" />
<polygon points="411.8,512.7 461.8,498.2 444.5,511.8 430.0,518.2 413.6,520.0 408.2,522.2" fill="#b2440f" stroke="#0a0a0a" stroke-width="1" stroke-linejoin="round" />
<polygon points="567.7,426.3 613.7,397.0 603.5,411.3 585.8,425.2 578.1,435.7 571.1,433.3" fill="#b94812" stroke="#0a0a0a" stroke-width="1" stroke-linejoin="round" />
<polygon points="578.1,435.7 585.8,425.2 588.6,428.0 582.6,435.0" fill="#ef6a22" stroke="#0a0a0a" stroke-width="1" stroke-linejoin="round" />
<polygon points="449.0,466.0 559.0,405.0 571.0,415.0 575.6,429.0 573.0,439.0 564.0,448.0 472.0,500.0 456.0,509.0 465.0,491.0 458.0,474.0" fill="#cac97e" stroke="#0a0a0a" stroke-width="1" stroke-linejoin="round" />
<polygon points="449.0,466.0 559.0,405.0 568.0,412.0 456.0,472.0" fill="#f3f2a6" stroke="#0a0a0a" stroke-width="1" stroke-linejoin="round" />
<polygon points="456.0,472.0 568.0,412.0 575.0,425.5 462.8,484.5" fill="#ecEB9a" stroke="#0a0a0a" stroke-width="1" stroke-linejoin="round" />
<polygon points="462.8,484.5 575.0,425.5 574.0,437.0 466.5,494.5" fill="#cac97e" stroke="#0a0a0a" stroke-width="1" stroke-linejoin="round" />
<polygon points="466.5,494.5 574.0,437.0 564.0,448.0 472.0,500.0 456.0,509.0" fill="#bebd74" stroke="#0a0a0a" stroke-width="1" stroke-linejoin="round" />
<polygon points="449.0,466.0 456.0,472.0 462.8,484.5 466.5,494.5 456.0,509.0 453.0,490.0" fill="#f3f2a6" stroke="#0a0a0a" stroke-width="1" stroke-linejoin="round" />
<polygon points="462.8,484.5 466.5,494.5 456.0,509.0 458.5,497.0" fill="#cac97e" stroke="#0a0a0a" stroke-width="1" stroke-linejoin="round" />
</g>
<g opacity="0.37" fill="#f26522" fill-rule="evenodd">
<path d="M181.5,365 H227.6 V373.6 H193.6 V380.4 H224.6 V388.6 H193.6 V396.2 H227.6 V404.8 H181.5 Z"/>
<rect x="233.4" y="364.5" width="12.7" height="40.3"/>
<path d="M258.0,375.0 H278.5 Q287.5,375.0 287.5,384.0 V395.8 Q287.5,404.8 278.5,404.8 H258.0 Q249.0,404.8 249.0,395.8 V384.0 Q249.0,375.0 258.0,375.0 Z M262.6,381.4 H274.0 Q276.8,381.4 276.8,384.2 V384.4 Q276.8,387.2 274.0,387.2 H262.6 Q259.8,387.2 259.8,384.4 V384.2 Q259.8,381.4 262.6,381.4 Z M259.8,393.6 H290 V398.2 H277 Q276,398.6 272,398.6 H265 Q259.8,398.6 259.8,393.6 Z"/>
<path d="M299.5,375.0 H320.8 Q329.8,375.0 329.8,384.0 V395.8 Q329.8,404.8 320.8,404.8 H299.5 Q290.5,404.8 290.5,395.8 V384.0 Q290.5,375.0 299.5,375.0 Z M304.5,381.6 H315.8 Q319.0,381.6 319.0,384.8 V395.0 Q319.0,398.2 315.8,398.2 H304.5 Q301.3,398.2 301.3,395.0 V384.8 Q301.3,381.6 304.5,381.6 Z M318,386.2 H332 V393.8 H318 Z"/>
<path d="M337,367.5 H348.6 V375 H355.5 V382 H348.6 V394 Q348.6,397.5 352,397.5 H355.5 V404.8 H346 Q337,404.8 337,396 V382 H331.5 V375 H337 Z"/>
</g>
<polygon points="444,349.5 478,370 478,409.5 444,430 410,411 410,370" fill="#e8742c" opacity="0.42"/>
<path d="M422,376 H446 Q458,376 458,388 V404 Q458,414 447,414 H431 M458,396 H437 Q426,396 426,387" fill="none" stroke="#d9a27c" stroke-width="7" opacity="0.55"/>
<text x="180.5" y="456.3" font-size="16.6" font-weight="bold" fill="#b2b2b2" opacity="0.78" textLength="299" lengthAdjust="spacingAndGlyphs">НИЗКОВОЛЬТНАЯ ЭЛЕКТРОТЕХНИКА</text>
<rect x="128.3" y="680" width="50" height="46" rx="9" fill="#c9eaf8"/>
<rect x="118.3" y="693.3" width="50" height="48.5" rx="9" fill="#d6effa" opacity="0.92"/>
<rect x="135" y="703.5" width="50.5" height="50" rx="9" fill="#aee1f6"/>
<path d="M149.5,731.5 C158,731.5 171,729 173,721.5 C174,715 166,713 160.5,714 C151.5,716 147,724 147.5,733.5 C148,742 154,745.5 161,744.5 C166,744 170,741.5 173,738.5" fill="none" stroke="#fff" stroke-width="6.3" stroke-linecap="round" stroke-linejoin="round"/>
<path d="M211.2,716.2 H193.9 V740.8 H211.2 M193.9,728.5 H208.2" fill="none" stroke="#b9e6f8" stroke-width="5.1" stroke-linecap="round" stroke-linejoin="round"/>
<path d="M223.9,716.2 V740.8 H239.9" fill="none" stroke="#b9e6f8" stroke-width="5.1" stroke-linecap="round" stroke-linejoin="round"/>
<path d="M268.7,716.2 H252.1 V740.8 H268.7 M252.1,728.5 H265.7" fill="none" stroke="#b9e6f8" stroke-width="5.1" stroke-linecap="round" stroke-linejoin="round"/>
<path d="M307.4,716.2 H292.5 A12.30,12.30 0 0 0 292.5,740.8 H307.4" fill="none" stroke="#b9e6f8" stroke-width="5.1" stroke-linecap="round" stroke-linejoin="round"/>
<path d="M319.1,716.2 H339.9 M329.5,716.2 V740.8" fill="none" stroke="#b9e6f8" stroke-width="5.1" stroke-linecap="round" stroke-linejoin="round"/>
<path d="M351.6,740.8 V716.2 H366 A7.4,7.4 0 0 1 366,731.0 H357 L373.4,740.8" fill="none" stroke="#b9e6f8" stroke-width="5.1" stroke-linecap="round" stroke-linejoin="round"/>
<path d="M395.5,716.2 A12.90,12.30 0 1 0 395.51,716.2 Z" fill="none" stroke="#b9e6f8" stroke-width="5.1" stroke-linecap="round" stroke-linejoin="round"/>
<path d="M421.4,716.2 V740.8 H434.9" fill="none" stroke="#b9e6f8" stroke-width="5.1" stroke-linecap="round" stroke-linejoin="round"/>
<path d="M466.2,716.2 H448.9 V740.8 H466.2 M448.9,728.5 H463.2" fill="none" stroke="#b9e6f8" stroke-width="5.1" stroke-linecap="round" stroke-linejoin="round"/>
<path d="M483.6,740.8 V716.2 L507.4,740.8 V716.2" fill="none" stroke="#b9e6f8" stroke-width="5.1" stroke-linecap="round" stroke-linejoin="round"/>
<path d="M518.6,716.2 V740.8 H525.9 A12.30,12.30 0 0 0 525.9,716.2 Z" fill="none" stroke="#b9e6f8" stroke-width="5.1" stroke-linecap="round" stroke-linejoin="round"/>
<polyline points="95.0,175.6 363.0,20.0" fill="none" stroke="#fa8d1c" stroke-width="1.3" stroke-linejoin="round" stroke-linecap="round" />
<polyline points="88.9,171.5 139.0,200.6" fill="none" stroke="#fa8d1c" stroke-width="1.3" stroke-linejoin="round" stroke-linecap="round" />
<polyline points="357.5,15.0 408.0,46.0" fill="none" stroke="#fa8d1c" stroke-width="1.3" stroke-linejoin="round" stroke-linecap="round" />
<polygon points="95.0,175.6 103.7,168.7 105.3,171.5" fill="#fa8d1c" opacity="0.8"/>
<polygon points="363.0,20.0 354.3,26.9 352.7,24.1" fill="#fa8d1c" opacity="0.8"/>
<polyline points="94.0,175.6 94.0,475.0" fill="none" stroke="#fa8d1c" stroke-width="1.3" stroke-linejoin="round" stroke-linecap="round" />
<polyline points="89.0,472.0 227.0,550.5" fill="none" stroke="#fa8d1c" stroke-width="1.3" stroke-linejoin="round" stroke-linecap="round" />
<polygon points="94.0,175.6 95.6,186.6 92.4,186.6" fill="#fa8d1c" opacity="0.8"/>
<polygon points="94.0,475.0 92.4,464.0 95.6,464.0" fill="#fa8d1c" opacity="0.8"/>
<polyline points="138.7,303.0 138.7,441.0" fill="none" stroke="#fa8d1c" stroke-width="1.3" stroke-linejoin="round" stroke-linecap="round" />
<polyline points="133.0,304.5 157.0,291.0" fill="none" stroke="#fa8d1c" stroke-width="1.3" stroke-linejoin="round" stroke-linecap="round" />
<polyline points="133.0,443.0 157.0,429.0" fill="none" stroke="#fa8d1c" stroke-width="1.3" stroke-linejoin="round" stroke-linecap="round" />
<polygon points="138.7,303.0 140.3,314.0 137.1,314.0" fill="#fa8d1c" opacity="0.8"/>
<polygon points="138.7,441.0 137.1,430.0 140.3,430.0" fill="#fa8d1c" opacity="0.8"/>
<polyline points="152.7,488.0 152.7,570.0" fill="none" stroke="#fa8d1c" stroke-width="1.3" stroke-linejoin="round" stroke-linecap="round" />
<polyline points="152.7,550.0 301.2,633.0" fill="none" stroke="#fa8d1c" stroke-width="1.3" stroke-linejoin="round" stroke-linecap="round" />
<polyline points="301.2,596.0 301.2,637.0" fill="none" stroke="#fa8d1c" stroke-width="1.3" stroke-linejoin="round" stroke-linecap="round" />
<polygon points="152.7,550.0 163.1,553.9 161.5,556.7" fill="#fa8d1c" opacity="0.8"/>
<polygon points="301.2,633.0 290.8,629.1 292.4,626.3" fill="#fa8d1c" opacity="0.8"/>
<polyline points="152.7,563.0 470.7,739.5" fill="none" stroke="#fa8d1c" stroke-width="1.3" stroke-linejoin="round" stroke-linecap="round" />
<polyline points="470.7,500.0 470.7,743.0" fill="none" stroke="#fa8d1c" stroke-width="1.3" stroke-linejoin="round" stroke-linecap="round" />
<polygon points="152.7,563.0 163.1,566.9 161.5,569.7" fill="#fa8d1c" opacity="0.8"/>
<polygon points="470.7,739.5 460.3,735.6 461.9,732.8" fill="#fa8d1c" opacity="0.8"/>
<polyline points="507.5,471.0 507.5,650.0" fill="none" stroke="#fa8d1c" stroke-width="1.3" stroke-linejoin="round" stroke-linecap="round" />
<polyline points="355.0,559.0 512.7,651.0" fill="none" stroke="#fa8d1c" stroke-width="1.3" stroke-linejoin="round" stroke-linecap="round" />
<polyline points="355.0,386.0 507.5,471.0" fill="none" stroke="#fa8d1c" stroke-width="1.3" stroke-linejoin="round" stroke-linecap="round" />
<polygon points="507.5,471.0 509.1,482.0 505.9,482.0" fill="#fa8d1c" opacity="0.8"/>
<polygon points="507.5,650.0 505.9,639.0 509.1,639.0" fill="#fa8d1c" opacity="0.8"/>
<text transform="translate(226.2,81.2) rotate(-30.0) scale(0.620,1)" font-size="31" text-anchor="middle" fill="#0a0a0a" stroke="#0a0a0a" stroke-width="0.45" y="11.2">81</text>
<text transform="translate(77.0,332.0) rotate(-90.0) scale(0.620,1)" font-size="31" text-anchor="middle" fill="#0a0a0a" stroke="#0a0a0a" stroke-width="0.45" y="11.2">80</text>
<text transform="translate(122.0,378.0) rotate(-90.0) scale(0.620,1)" font-size="31" text-anchor="middle" fill="#0a0a0a" stroke="#0a0a0a" stroke-width="0.45" y="11.2">36</text>
<text transform="translate(242.0,580.0) rotate(29.0) scale(0.620,1)" font-size="31" text-anchor="middle" fill="#0a0a0a" stroke="#0a0a0a" stroke-width="0.45" y="11.2">50</text>
<text transform="translate(378.0,668.0) rotate(29.0) scale(0.620,1)" font-size="31" text-anchor="middle" fill="#0a0a0a" stroke="#0a0a0a" stroke-width="0.45" y="11.2">78 max</text>
<text transform="translate(490.7,565.0) rotate(-90.0) scale(0.620,1)" font-size="31" text-anchor="middle" fill="#0a0a0a" stroke="#0a0a0a" stroke-width="0.45" y="11.2">45</text>
</svg>
</body></html>
